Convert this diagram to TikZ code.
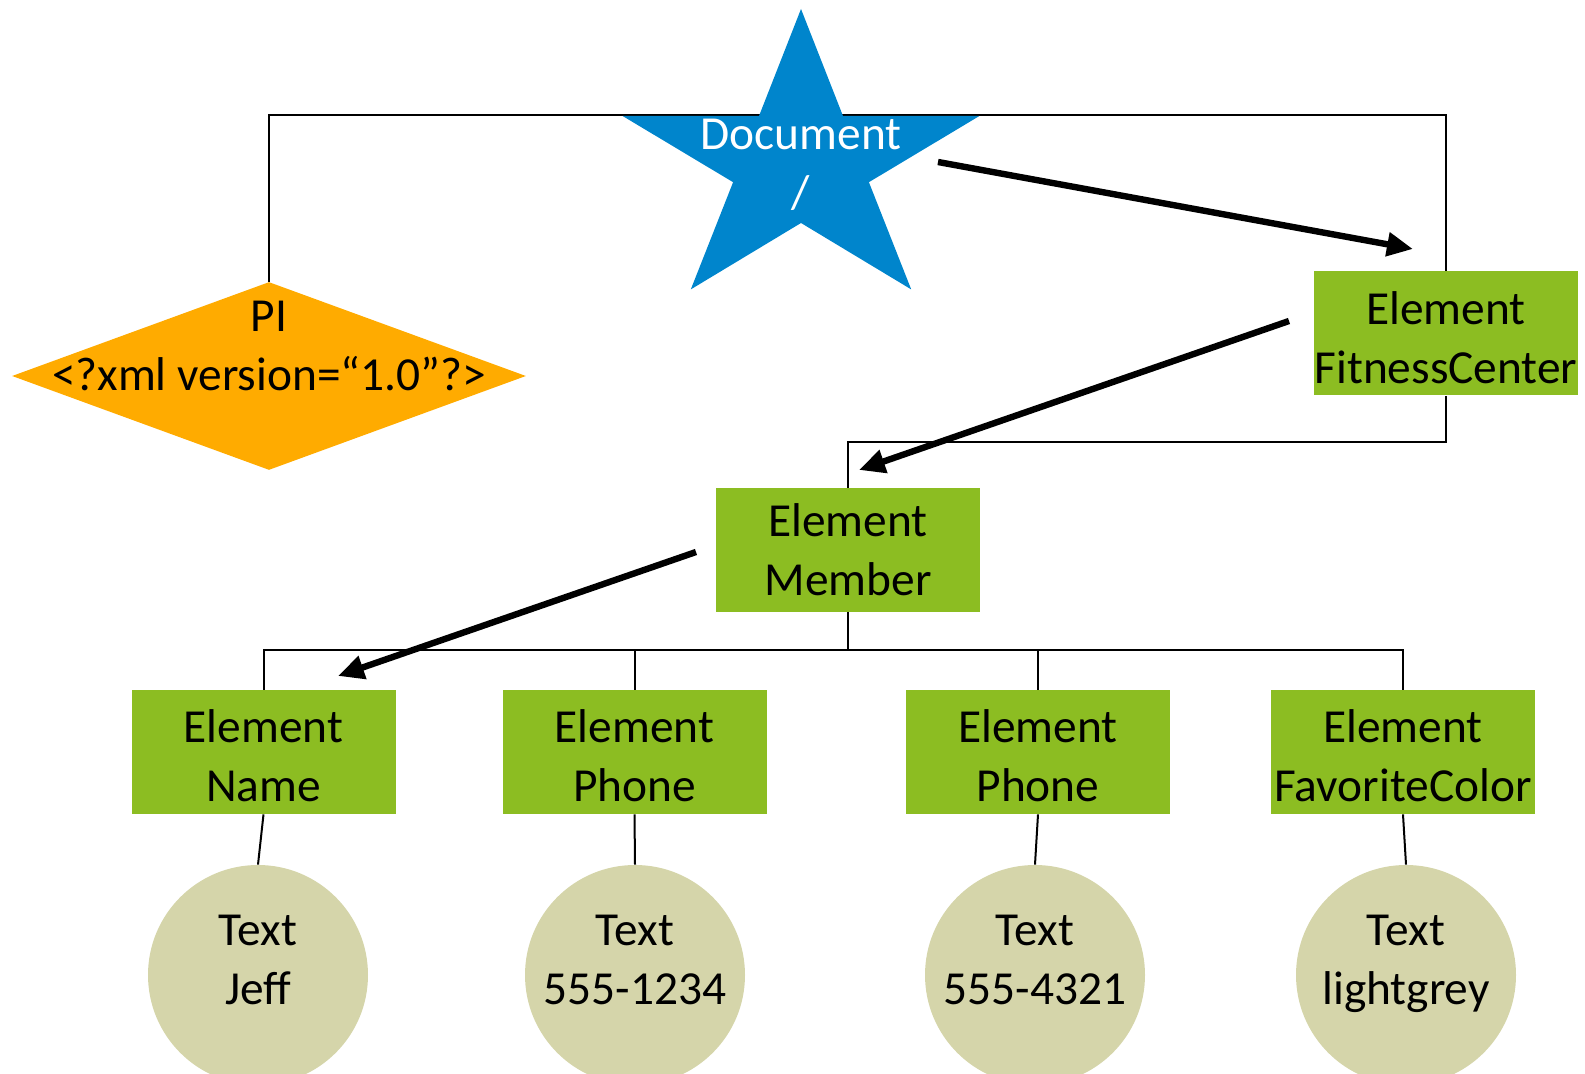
\documentclass[tikz,border=0pt]{standalone}
\usepackage{fontspec}
\setmainfont{Carlito}
\usetikzlibrary{shapes.geometric,arrows.meta,calc}
\definecolor{docblue}{RGB}{0,133,204}
\definecolor{piorange}{RGB}{255,171,0}
\definecolor{elgreen}{RGB}{140,189,34}
\definecolor{txtbeige}{RGB}{213,213,170}
\begin{document}
\begin{tikzpicture}[x=0.5pt,y=-0.5pt,
  every node/.style={font=\fontsize{23.7}{29.5}\selectfont, align=center},
  elbox/.style={fill=elgreen, minimum width=132pt, minimum height=62pt, inner sep=0pt},
  txtcirc/.style={circle, fill=txtbeige, minimum size=110pt, inner sep=0pt},
  pidiamond/.style={diamond, fill=piorange, minimum width=257pt, minimum height=94pt, inner sep=0pt},
  lbl/.style={inner sep=0pt},
  tree/.style={line width=1pt},
  bigarrow/.style={line width=3.2pt, -{Triangle[length=13pt,width=11.5pt]}},
]
\clip (0,0) rectangle (1585,1074);
% element boxes
\node[elbox] (fc)   at (1446,333.5) {\strut Element\\FitnessCenter};
\node[elbox] (mem)  at (848,550)    {\strut Element\\Member\rule[-5pt]{0pt}{0pt}};
\node[elbox] (name) at (263.5,752)  {\strut Element\\Name};
\node[elbox] (ph1)  at (634.5,752)  {\strut Element\\Phone};
\node[elbox] (ph2)  at (1038,752)   {\strut Element\\Phone};
\node[elbox] (fav)  at (1403,752)   {\strut Element\\FavoriteColor};
% PI diamond
\node[pidiamond] (pi) at (269,376) {};
\node[lbl] (pitext) at (269,349) {\strut PI\\\strut <?xml version=“1.0”?>};
% text circles
\node[txtcirc] (t1) at (258,975) {};
\node[txtcirc] (t2) at (635,975) {};
\node[txtcirc] (t3) at (1035,975) {};
\node[txtcirc] (t4) at (1406,975) {};
% tree connectors
\coordinate (docbar) at (801,115);
\draw[tree] (pi.north) |- (docbar) -| (fc.north);
\draw[tree] (fc.south) |- ($(mem.north)+(0,-46)$) -- (mem.north);
\coordinate (hub) at ($(mem.south)+(0,38)$);
\draw[tree] (mem.south) -- (hub);
\foreach \c in {name,ph1,ph2,fav} \draw[tree] (hub) -| (\c.north);
\draw[tree] (name.south) -- (t1.north);
\draw[tree] (ph1.south) -- (t2.north);
\draw[tree] (ph2.south) -- (t3.north);
\draw[tree] (fav.south) -- (t4.north);
% document star
\fill[docblue] (801,9) -- (843,116) -- (979.4,116) -- (868.9,182.2) -- (911.2,289.4)
  -- (801,223) -- (690.8,289.4) -- (733.1,182.2) -- (622.6,116) -- (759,116) -- cycle;
\node[lbl, text=white] (doc) at (801,167) {\strut Document\\\strut /};
% circle texts
\node[lbl] (t1text) at (258,963)  {\strut Text\\\strut Jeff};
\node[lbl] (t2text) at (635,963)  {\strut Text\\\strut 555-1234};
\node[lbl] (t3text) at (1035,963) {\strut Text\\\strut 555-4321};
\node[lbl] (t4text) at (1406,963) {\strut Text\\\strut lightgrey};
% navigation arrows
\coordinate (a1s) at (938,162);  \coordinate (a1e) at (1413,249);
\coordinate (a2s) at (1289,321); \coordinate (a2e) at (859,470);
\coordinate (a3s) at (696,552);  \coordinate (a3e) at (338,676);
\draw[bigarrow] (a1s) -- (a1e);
\draw[bigarrow] (a2s) -- (a2e);
\draw[bigarrow] (a3s) -- (a3e);
\end{tikzpicture}
\end{document}
